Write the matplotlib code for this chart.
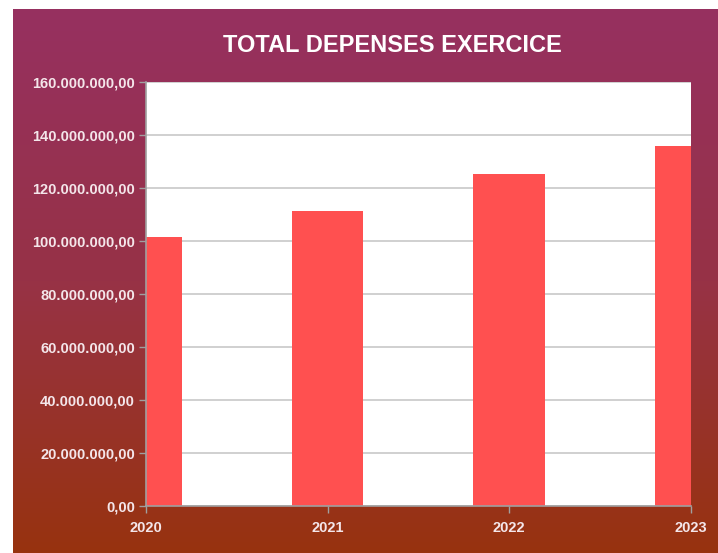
import matplotlib.pyplot as plt
import numpy as np
from matplotlib.colors import LinearSegmentedColormap
from matplotlib.ticker import FuncFormatter, MultipleLocator

# données
years = [2020, 2021, 2022, 2023]
depenses = [101600000, 111300000, 125200000, 135800000]
title = "TOTAL DEPENSES EXERCICE"

plt.rcParams["font.family"] = ["Liberation Sans", "DejaVu Sans"]

fig = plt.figure(figsize=(7.18, 5.53), dpi=100)

# fond dégradé violet -> brun
bg = fig.add_axes([13 / 718, 0, 1 - 13 / 718, 1 - 9 / 553], zorder=0)
cmap = LinearSegmentedColormap.from_list("fond", ["#963060", "#973246", "#98330f"])
grad = np.linspace(0, 1, 256).reshape(-1, 1)
bg.imshow(grad, aspect="auto", cmap=cmap, extent=[0, 1, 0, 1], origin="upper")
bg.axis("off")

ax = fig.add_axes([146 / 718, 1 - 506 / 553, (690.5 - 146) / 718, (506 - 82) / 553], zorder=1)
ax.set_facecolor("white")
ax.bar(years, depenses, width=0.394, color="#ff5050", zorder=2)

ax.set_xlim(2020, 2023)
ax.set_ylim(0, 160000000)
ax.set_xticks(years)
ax.yaxis.set_major_locator(MultipleLocator(20000000))


def fmt(v, pos):
    s = f"{v:,.2f}"
    return s.replace(",", " ").replace(".", ",").replace(" ", ".")


ax.yaxis.set_major_formatter(FuncFormatter(fmt))
ax.grid(axis="y", color="#c4c4c4", linewidth=1.1, zorder=1)
ax.set_axisbelow(True)

for side in ["top", "right"]:
    ax.spines[side].set_visible(False)
for side in ["left", "bottom"]:
    ax.spines[side].set_color("#a0a0a0")
    ax.spines[side].set_linewidth(1.2)

ax.tick_params(axis="both", colors="#a0a0a0", length=5, width=1, labelcolor="#f4e6ea")
ax.tick_params(axis="y", labelsize=10.5, pad=3)
ax.tick_params(axis="x", labelsize=10.5, pad=6)
for lab in ax.get_xticklabels() + ax.get_yticklabels():
    lab.set_fontweight("bold")

fig.text(392 / 718, 1 - 45 / 553, title, ha="center", va="center",
         color="white", fontsize=17, fontweight="bold")

plt.savefig("out.png", dpi=100)
